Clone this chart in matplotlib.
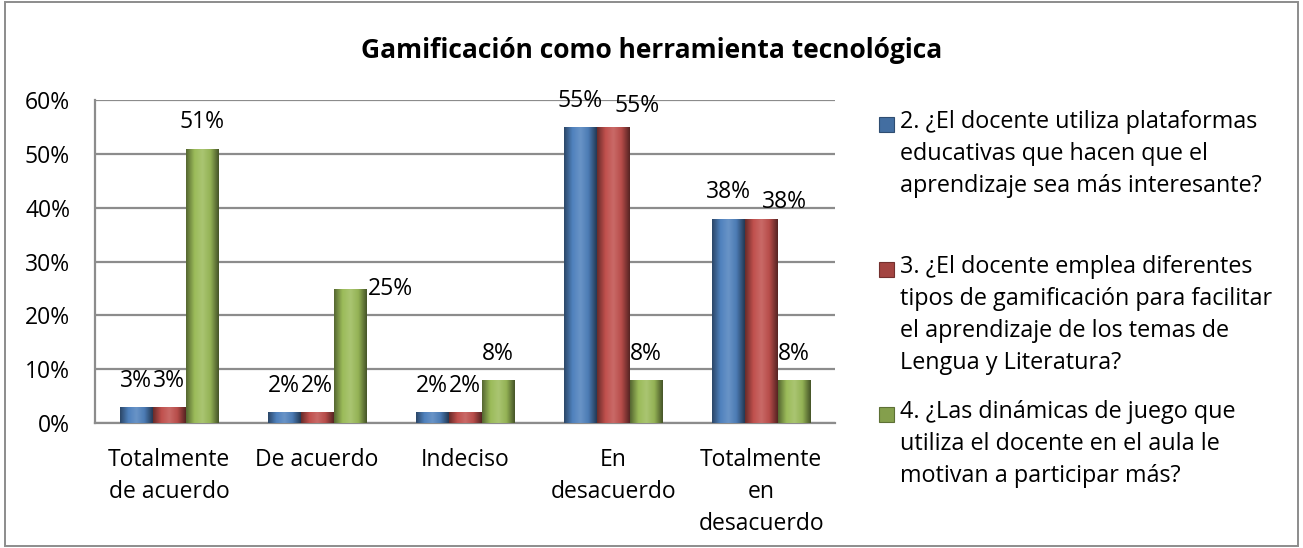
import matplotlib
matplotlib.use("Agg")
import matplotlib.pyplot as plt
import numpy as np
from matplotlib.colors import LinearSegmentedColormap, to_rgb
from matplotlib.patches import Rectangle

plt.rcParams['font.family'] = ['Open Sans', 'DejaVu Sans']

# ── Data ─────────────────────────────────────────────────────────
categories = ["Totalmente\nde acuerdo", "De acuerdo", "Indeciso",
              "En\ndesacuerdo", "Totalmente\nen\ndesacuerdo"]
series_names = [
    "2. ¿El docente utiliza plataformas\neducativas que hacen que el\naprendizaje sea más interesante?",
    "3. ¿El docente emplea diferentes\ntipos de gamificación para facilitar\nel aprendizaje de los temas de\nLengua y Literatura?",
    "4. ¿Las dinámicas de juego que\nutiliza el docente en el aula le\nmotivan a participar más?",
]
q2 = [3, 2, 2, 55, 38]
q3 = [3, 2, 2, 55, 38]
q4 = [51, 25, 8, 8, 8]
values = [q2, q3, q4]

colors = ["#4F81BD", "#C0504D", "#9BBB59"]
title = "Gamificación como herramienta tecnológica"

# label offsets (points) for the ones Excel had moved around
label_off = {(2, 1): (29, -19), (1, 3): (17, -4), (1, 4): (17, -7)}


def shade(c, f):
    r = np.array(to_rgb(c))
    return tuple(np.clip(r * f, 0, 1)) if f < 1 else tuple(r + (1 - r) * (f - 1))


def cyl_cmap(c):
    return LinearSegmentedColormap.from_list(
        "b", [shade(c, 0.55), shade(c, 1.0), shade(c, 1.15), shade(c, 0.95), shade(c, 0.45)])


def cyl_fill(ax, bar, c):
    # fake the Excel cylinder look: horizontal gradient clipped to the bar
    x0, y0 = bar.get_x(), bar.get_y()
    w, h = bar.get_width(), bar.get_height()
    grad = np.linspace(0, 1, 64).reshape(1, -1)
    im = ax.imshow(grad, extent=(x0, x0 + w, y0, y0 + h), aspect='auto',
                   cmap=cyl_cmap(c), zorder=3, interpolation='bicubic')
    im.set_clip_path(bar)


fig = plt.figure(figsize=(13.03, 5.48), dpi=100)
ax = fig.add_axes([0.073, 0.228, 0.568, 0.589])

x = np.arange(len(categories))
bw = 0.222
for i, (vals, c) in enumerate(zip(values, colors)):
    bars = ax.bar(x + (i - 1) * bw, vals, bw, color=c, zorder=2, edgecolor='none')
    for j, b in enumerate(bars):
        cyl_fill(ax, b, c)
        dx, dy = label_off.get((i, j), (0, 0))
        ax.annotate(f"{vals[j]}%", (b.get_x() + b.get_width() / 2, b.get_height()),
                    xytext=(dx, 19 + dy), textcoords='offset points',
                    ha='center', va='center', fontsize=16.5, zorder=5)

ax.set_xlim(-0.5, len(categories) - 0.5)
ax.set_ylim(0, 60)
ax.set_yticks(range(0, 61, 10))
ax.set_yticklabels([f"{v}%" for v in range(0, 61, 10)], fontsize=16.5)
ax.set_xticks(x)
ax.set_xticklabels(categories, fontsize=16.5, linespacing=1.45)
ax.tick_params(length=0)
ax.tick_params(axis='y', pad=18)
ax.tick_params(axis='x', pad=18)
ax.grid(axis='y', color='#8c8c8c', lw=1.6, zorder=0)
ax.set_axisbelow(True)
for s in ['top', 'right']:
    ax.spines[s].set_visible(False)
for s in ['left', 'bottom']:
    ax.spines[s].set_color('#8c8c8c')
    ax.spines[s].set_linewidth(1.6)

fig.text(0.5, 0.907, title, ha='center', va='center', fontsize=19, fontweight='bold')

# legend, laid out by hand so the marker sits on the first line like Excel does
for i, (name, c) in enumerate(zip(series_names, colors)):
    y_top = 0.799 - i * 0.2646
    fig.text(0.6907, y_top, name, ha='left', va='top', fontsize=16.8, linespacing=1.45)
    fig.patches.append(Rectangle((0.6745, y_top - 0.040), 0.0115, 0.0274,
                                 transform=fig.transFigure, facecolor=shade(c, 0.85),
                                 edgecolor=shade(c, 0.6), lw=0.8))

fig.patches.append(Rectangle((0.004, 0.004), 0.992, 0.992, transform=fig.transFigure,
                             fill=False, edgecolor='#8c8c8c', lw=1.4))

plt.savefig("out.png", dpi=100)
